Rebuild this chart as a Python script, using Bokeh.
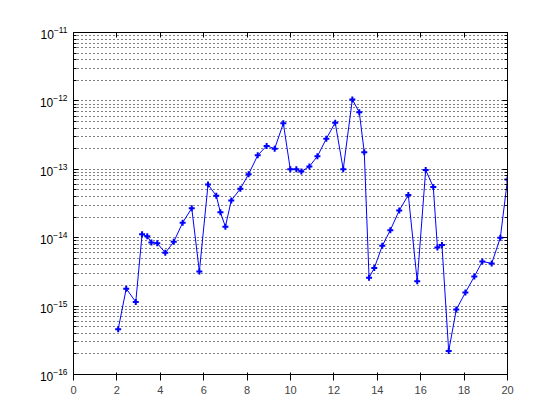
from bokeh.plotting import figure
from bokeh.models import FixedTicker, LinearAxis, LogAxis
from bokeh.embed import file_html
from bokeh.resources import INLINE

# data
x = [2.06, 2.43, 2.87, 3.16, 3.40, 3.59, 3.86, 4.23, 4.62, 5.03,
     5.45, 5.80, 6.20, 6.58, 6.77, 7.00, 7.27, 7.69, 8.07, 8.49,
     8.90, 9.27, 9.67, 9.99, 10.27, 10.50, 10.87, 11.24, 11.65, 12.06,
     12.43, 12.85, 13.17, 13.40, 13.62, 13.86, 14.23, 14.60, 15.01, 15.43,
     15.84, 16.23, 16.58, 16.77, 16.98, 17.29, 17.64, 18.06, 18.47, 18.84,
     19.27, 19.67, 20.0]
y = [4.6e-16, 1.8e-15, 1.15e-15, 1.12e-14, 1.05e-14, 8.5e-15, 8.3e-15, 6.0e-15, 8.7e-15, 1.66e-14,
     2.7e-14, 3.2e-15, 6.0e-14, 4.1e-14, 2.35e-14, 1.45e-14, 3.5e-14, 5.2e-14, 8.5e-14, 1.6e-13,
     2.2e-13, 2.0e-13, 4.7e-13, 1.0e-13, 1.0e-13, 9.3e-14, 1.1e-13, 1.55e-13, 2.8e-13, 4.8e-13,
     1.0e-13, 1.05e-12, 6.8e-13, 1.78e-13, 2.6e-15, 3.6e-15, 7.6e-15, 1.29e-14, 2.5e-14, 4.2e-14,
     2.3e-15, 9.8e-14, 5.5e-14, 7.2e-15, 7.8e-15, 2.2e-16, 8.9e-16, 1.58e-15, 2.7e-15, 4.5e-15,
     4.2e-15, 1.0e-14, 7.1e-14]

x_ticks = [0, 2, 4, 6, 8, 10, 12, 14, 16, 18, 20]
y_major = [1e-16, 1e-15, 1e-14, 1e-13, 1e-12, 1e-11]
y_minor = [m * d for d in y_major[:-1] for m in range(2, 10)]

FONT = "Liberation Sans"
FS = "12px"

p = figure(width=560, height=420, x_range=(0, 20), y_range=(1e-16, 1e-11),
           y_axis_type="log", output_backend="svg", toolbar_location=None,
           min_border_left=73, min_border_top=32, min_border_right=53,
           min_border_bottom=46)
p.background_fill_color = "white"
p.border_fill_color = "white"
p.outline_line_color = "black"
p.outline_line_width = 1

xt = FixedTicker(ticks=x_ticks)
yt = FixedTicker(ticks=y_major, minor_ticks=y_minor)

p.xaxis.ticker = xt
p.yaxis.ticker = yt

top = LinearAxis(ticker=FixedTicker(ticks=x_ticks))
right = LogAxis(ticker=FixedTicker(ticks=y_major, minor_ticks=y_minor))
p.add_layout(top, "above")
p.add_layout(right, "right")

for ax in [p.xaxis[0], p.yaxis[0], top, right]:
    ax.axis_line_color = "black"
    ax.axis_line_width = 1
    ax.major_tick_line_color = "black"
    ax.major_tick_in = 5
    ax.major_tick_out = 0
    ax.minor_tick_line_color = "black"
    ax.minor_tick_in = 3
    ax.minor_tick_out = 0
    ax.major_label_text_font = FONT
    ax.major_label_text_font_size = FS
    ax.major_label_text_color = "black"
    ax.major_label_standoff = 6

for ax in [p.xaxis[0], top]:
    ax.minor_tick_line_color = None
for ax in [top, right]:
    ax.major_label_text_color = None
    ax.major_label_text_font_size = "0px"

p.xgrid.visible = False
p.ygrid.ticker = yt
p.ygrid.grid_line_color = "black"
p.ygrid.grid_line_dash = "1 3"
p.ygrid.grid_line_width = 1
p.ygrid.minor_grid_line_color = "black"
p.ygrid.minor_grid_line_dash = "1 3"
p.ygrid.minor_grid_line_width = 1

p.line(x, y, line_color="#0000ff", line_width=1)
p.scatter(x, y, marker="cross", size=6, line_color="#0000ff", line_width=2)

open("out.html", "w").write(file_html(p, INLINE))
